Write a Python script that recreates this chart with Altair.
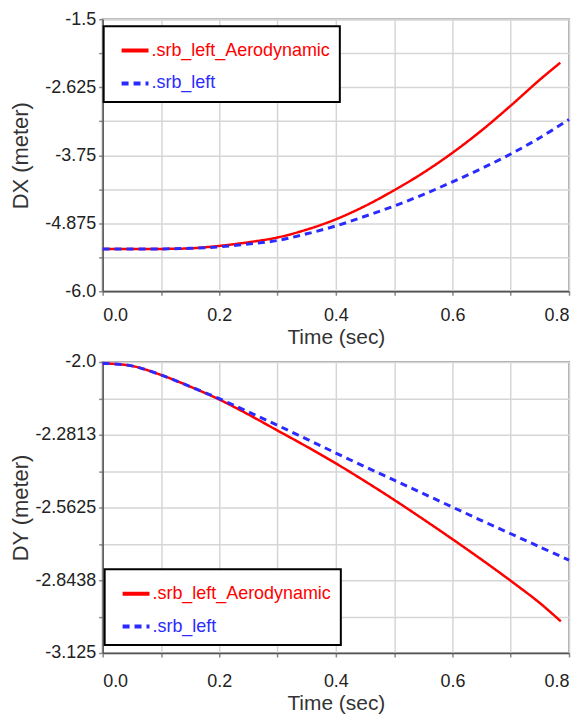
import altair as alt
import pandas as pd

# ---- data ----
series_names = [".srb_left_Aerodynamic", ".srb_left"]

dx_red_t = [0.0, 0.1, 0.15, 0.2, 0.25, 0.3, 0.35, 0.4, 0.45, 0.5, 0.55, 0.6, 0.65, 0.7, 0.75, 0.785]
dx_red_v = [-5.30, -5.30, -5.29, -5.25, -5.19, -5.11, -4.98, -4.81, -4.59, -4.33, -4.04, -3.71, -3.34, -2.93, -2.50, -2.22]
dx_blue_t = [0.0, 0.1, 0.15, 0.2, 0.25, 0.3, 0.35, 0.4, 0.45, 0.5, 0.55, 0.6, 0.65, 0.7, 0.75, 0.8]
dx_blue_v = [-5.30, -5.30, -5.29, -5.265, -5.22, -5.16, -5.05, -4.92, -4.76, -4.59, -4.40, -4.19, -3.97, -3.73, -3.46, -3.16]

dy_red_t = [0.0, 0.05, 0.1, 0.15, 0.2, 0.25, 0.3, 0.35, 0.4, 0.45, 0.5, 0.55, 0.6, 0.65, 0.7, 0.75, 0.786]
dy_red_v = [-2.005, -2.015, -2.05, -2.095, -2.145, -2.203, -2.265, -2.327, -2.392, -2.461, -2.533, -2.608, -2.685, -2.764, -2.846, -2.932, -3.003]
dy_blue_t = [0.0, 0.05, 0.1, 0.15, 0.2, 0.25, 0.3, 0.35, 0.4, 0.45, 0.5, 0.55, 0.6, 0.65, 0.7, 0.75, 0.8]
dy_blue_v = [-2.005, -2.015, -2.05, -2.095, -2.142, -2.193, -2.245, -2.298, -2.352, -2.405, -2.457, -2.509, -2.561, -2.613, -2.664, -2.715, -2.766]

x_ticks = [0.0, 0.1, 0.2, 0.3, 0.4, 0.5, 0.6, 0.7, 0.8]
x_labels = ["0.0", "", "0.2", "", "0.4", "", "0.6", "", "0.8"]
dx_ticks = [-1.5, -2.0625, -2.625, -3.1875, -3.75, -4.3125, -4.875, -5.4375, -6.0]
dx_labels = ["-1.5", "", "-2.625", "", "-3.75", "", "-4.875", "", "-6.0"]
dy_ticks = [-2.0, -2.140625, -2.28125, -2.421875, -2.5625, -2.703125, -2.84375, -2.984375, -3.125]
dy_labels = ["-2.0", "", "-2.2813", "", "-2.5625", "", "-2.8438", "", "-3.125"]

COLORS = ["#ff0000", "#2b2bff"]
FONT = "Liberation Sans, Arial"


def label_expr(values, labels):
    expr = "''"
    for v, l in zip(reversed(values), reversed(labels)):
        expr = f"abs(datum.value - ({v})) < 1e-6 ? '{l}' : ({expr})"
    return expr


def frame(red_t, red_v, blue_t, blue_v):
    rows = []
    for t, v in zip(red_t, red_v):
        rows.append({"t": t, "v": v, "s": series_names[0], "o": 0})
    for t, v in zip(blue_t, blue_v):
        rows.append({"t": t, "v": v, "s": series_names[1], "o": 1})
    return pd.DataFrame(rows)


def panel(df, ytitle, yticks, ylabels, ydom, w, h, lx, ly, xlabpad):
    legend = alt.Legend(
        title=None, orient="none", legendX=lx, legendY=ly,
        fillColor="white", strokeColor="black",
        padding=9, rowPadding=8, labelFont=FONT, labelFontSize=18,
        symbolType="stroke", symbolStrokeWidth=4, symbolSize=729,
        symbolOffset=7, labelOffset=1, labelLimit=400,
        labelColor={"expr": "datum.value === '.srb_left' ? '#2b2bff' : '#ff0000'"},
    )
    return alt.Chart(df).mark_line(interpolate="catmull-rom").encode(
        x=alt.X("t:Q", title="Time (sec)",
                scale=alt.Scale(domain=[0, 0.8], nice=False),
                axis=alt.Axis(values=x_ticks, labelExpr=label_expr(x_ticks, x_labels),
                              labelPadding=xlabpad)),
        y=alt.Y("v:Q", title=ytitle,
                scale=alt.Scale(domain=ydom, nice=False, zero=False),
                axis=alt.Axis(values=yticks, labelExpr=label_expr(yticks, ylabels))),
        color=alt.Color("s:N", scale=alt.Scale(domain=series_names, range=COLORS), legend=legend),
        strokeDash=alt.StrokeDash("s:N", scale=alt.Scale(domain=series_names, range=[[1, 0], [7, 5]]), legend=legend),
        strokeWidth=alt.StrokeWidth("s:N", scale=alt.Scale(domain=series_names, range=[2.5, 3]), legend=None),
        order=alt.Order("o:Q"),
    ).properties(width=w, height=h)


top = panel(frame(dx_red_t, dx_red_v, dx_blue_t, dx_blue_v), "DX (meter)",
            dx_ticks, dx_labels, [-6.0, -1.5], 468, 273, 1, 7, 11)
bottom = panel(frame(dy_red_t, dy_red_v, dy_blue_t, dy_blue_v), "DY (meter)",
               dy_ticks, dy_labels, [-3.125, -2.0], 468, 292, 2, 208, 16)

chart = alt.vconcat(top, bottom, spacing=4).resolve_scale(
    color="independent", strokeDash="independent"
).properties(
    padding={"left": 0, "top": 0, "right": 0, "bottom": 0}
).configure_view(
    stroke="#a8a8a8", strokeWidth=2
).configure_legend(
    strokeWidth=2, cornerRadius=0,
).configure_axis(
    labelFont=FONT, labelFontSize=18, labelColor="#222222",
    titleFont=FONT, titleColor="#333333", titleFontWeight="normal",
    gridColor="#d6d6d6", gridWidth=1.5,
    domainColor="#555555", domainWidth=1.5,
    tickColor="#888888", tickSize=4, tickWidth=1.5,
    labelPadding=3,
).configure_axisY(
    titlePadding=3, titleFontSize=22, titleX=-70,
).configure_axisX(
    titlePadding=2, titleFontSize=21,
)

chart.save("out.html", embed_options={"renderer": "svg", "actions": False})
